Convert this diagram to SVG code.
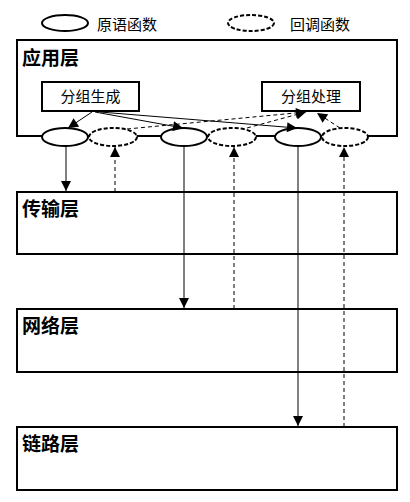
<svg xmlns="http://www.w3.org/2000/svg" width="410" height="502" viewBox="0 0 410 502">
<style>
.layer{fill:#fff;stroke:#000;stroke-width:2}
.box{fill:#fff;stroke:#000;stroke-width:2}
.prim{fill:#fff;stroke:#000;stroke-width:2}
.cb{fill:#fff;stroke:#000;stroke-width:2;stroke-dasharray:4 2}
.title{font-family:"Noto Sans CJK SC",sans-serif;font-size:19px;font-weight:bold;fill:#000}
.lbl{font-family:"Noto Sans CJK SC",sans-serif;font-size:15px;fill:#000}
.s{fill:none;stroke:#000;stroke-width:1;marker-end:url(#ah)}
.d{fill:none;stroke:#000;stroke-width:1;stroke-dasharray:4 3;marker-end:url(#ah)}
</style>
<defs>
<marker id="ah" viewBox="0 0 10 10" refX="10" refY="5" markerWidth="11" markerHeight="10" markerUnits="userSpaceOnUse" orient="auto"><path d="M0,0 L10,5 L0,10 z" fill="#000"/></marker>
</defs>
<rect width="410" height="502" fill="#fff"/>
<g id="legend">
<ellipse class="prim" cx="65" cy="23" rx="23" ry="8"/>
<text class="lbl" x="97" y="30">原语函数</text>
<ellipse class="cb" cx="251" cy="23" rx="23" ry="8"/>
<text class="lbl" x="290" y="30">回调函数</text>
</g>
<g id="app-layer">
<rect class="layer" x="17" y="40" width="380" height="96"/>
<text class="title" x="22" y="65">应用层</text>
</g>
<g id="transport-layer">
<rect class="layer" x="17" y="192" width="380" height="62"/>
<text class="title" x="22" y="216">传输层</text>
</g>
<g id="network-layer">
<rect class="layer" x="17" y="309" width="380" height="63"/>
<text class="title" x="22" y="333">网络层</text>
</g>
<g id="link-layer">
<rect class="layer" x="17" y="427" width="380" height="63"/>
<text class="title" x="22" y="451">链路层</text>
</g>
<g id="gen">
<rect class="box" x="42" y="82" width="97" height="29"/>
<text class="lbl" x="90.5" y="102" text-anchor="middle">分组生成</text>
</g>
<g id="proc">
<rect class="box" x="262" y="82" width="98" height="29"/>
<text class="lbl" x="311" y="102" text-anchor="middle">分组处理</text>
</g>
<g id="p1"><ellipse class="prim" cx="65" cy="137" rx="23" ry="9"/></g>
<g id="c1"><ellipse class="cb" cx="113" cy="137" rx="24" ry="9"/></g>
<g id="p2"><ellipse class="prim" cx="184" cy="137" rx="23" ry="9"/></g>
<g id="c2"><ellipse class="cb" cx="232" cy="137" rx="24" ry="9"/></g>
<g id="p3"><ellipse class="prim" cx="298" cy="137" rx="23" ry="9"/></g>
<g id="c3"><ellipse class="cb" cx="345" cy="137" rx="23" ry="9"/></g>
<g id="connectors">
<path class="s" d="M92,112 L68,128"/>
<path class="s" d="M95,112 L183,128"/>
<path class="s" d="M100,112 L297,128"/>
<path class="d" d="M127,129 L306,112"/>
<path class="d" d="M247,128 L306,112"/>
<path class="d" d="M340,128 L317,113"/>
<path class="s" d="M66,146 L66,191"/>
<path class="d" d="M115,192 L115,147"/>
<path class="s" d="M184,146 L184,308"/>
<path class="d" d="M234,309 L234,147"/>
<path class="s" d="M298,146 L298,426"/>
<path class="d" d="M344,427 L344,147"/>
</g>
</svg>
